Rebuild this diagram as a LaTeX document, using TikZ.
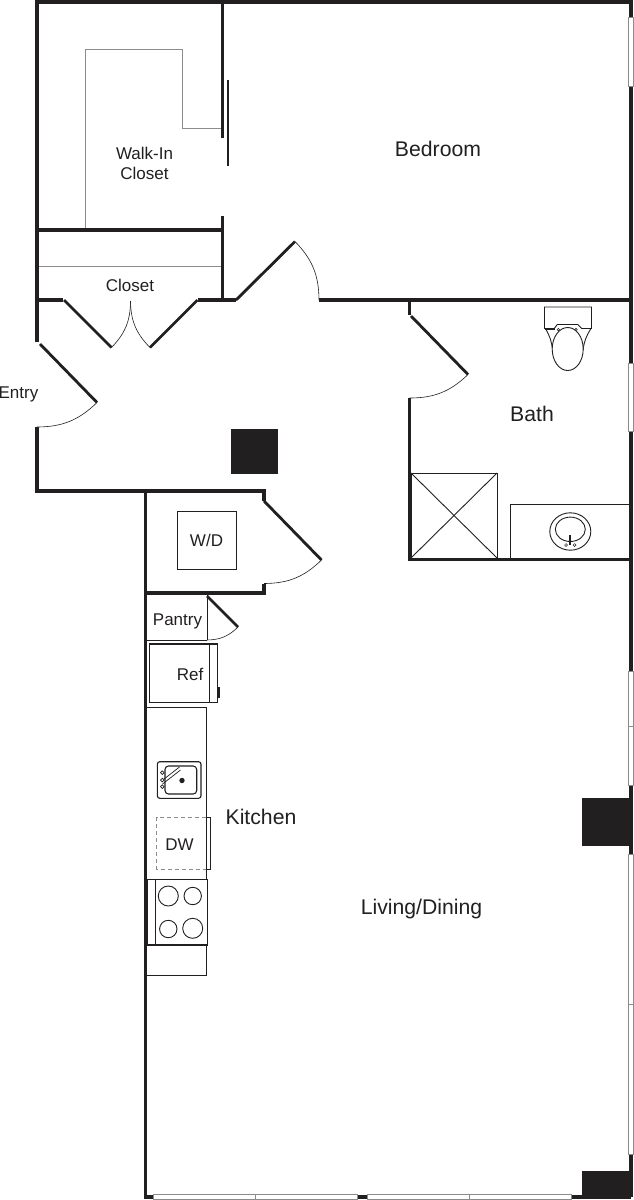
\documentclass[tikz,border=0pt]{standalone}
\usepackage{fontspec}
\setmainfont{Liberation Sans}
\usetikzlibrary{positioning,shapes.geometric}
\pgfdeclarelayer{edgelayer}
\pgfdeclarelayer{nodelayer}
\pgfsetlayers{edgelayer,main,nodelayer}
\definecolor{ink}{rgb}{0.13,0.12,0.12}
\definecolor{lgrey}{rgb}{0.55,0.55,0.55}
\tikzstyle{none}=[inner sep=0pt]
\tikzstyle{roomlabel}=[inner sep=0pt,text=ink,font=\fontsize{21.2}{21}\selectfont]
\tikzstyle{smalllabel}=[inner sep=0pt,text=ink,align=center,font=\fontsize{17}{20}\selectfont]
\tikzstyle{wall}=[draw=ink,line width=3.8]
\tikzstyle{doorleaf}=[draw=ink,line width=2.8]
\tikzstyle{swing}=[draw=ink,line width=0.6]
\tikzstyle{fixture}=[draw=ink,line width=0.9]
\tikzstyle{shelf}=[draw=lgrey,line width=1.0]
\tikzstyle{windowpane}=[draw=lgrey,fill=white,line width=0.9]
\tikzstyle{column}=[draw=ink,fill=ink,line width=0.8]

\begin{document}
\begin{tikzpicture}[x=1pt,y=-1pt]
	\useasboundingbox (0,0) rectangle (634,1200);
	\begin{pgfonlayer}{nodelayer}
		\node [style=roomlabel] (Bedroom) at (438,149) {Bedroom};
		\node [style=roomlabel] (Bath) at (532,413.5) {Bath};
		\node [style=roomlabel] (Kitchen) at (261,816.5) {Kitchen};
		\node [style=roomlabel] (Living) at (421.5,909) {Living/Dining};
		\node [style=smalllabel] (WalkIn) at (144.5,163.5) {Walk-In\\Closet};
		\node [style=smalllabel] (Closet) at (130,285) {Closet};
		\node [style=smalllabel] (Entry) at (18.5,394) {Entry};
		\node [style=smalllabel] (WD) at (206.5,540.5) {W/D};
		\node [style=smalllabel] (Pantry) at (177.5,621) {Pantry};
		\node [style=smalllabel] (Ref) at (190,674) {Ref};
		\node [style=smalllabel] (DW) at (179.5,845) {DW};
	\end{pgfonlayer}
	% door points
	\node [style=none] (EHinge) at (40,344) {};
	\node [style=none] (ETip) at (97,402.5) {};
	\node [style=none] (EJamb) at (37,427) {};
	\node [style=none] (CLHinge) at (64,300) {};
	\node [style=none] (CLTip) at (111.5,347.5) {};
	\node [style=none] (CRHinge) at (197.5,300) {};
	\node [style=none] (CRTip) at (150,347.5) {};
	\node [style=none] (CJamb) at (130.5,301) {};
	\node [style=none] (BHinge) at (236,300) {};
	\node [style=none] (BTip) at (295,241.5) {};
	\node [style=none] (BJamb) at (319,300) {};
	\node [style=none] (THinge) at (411,316) {};
	\node [style=none] (TTip) at (468,374.5) {};
	\node [style=none] (TJamb) at (409.5,398) {};
	\node [style=none] (LHinge) at (264,501) {};
	\node [style=none] (LTip) at (321.5,560) {};
	\node [style=none] (LJamb) at (264,583.5) {};
	\node [style=none] (PHinge) at (207,596) {};
	\node [style=none] (PTip) at (238,627) {};
	\node [style=none] (PJamb) at (207,640) {};
	\begin{pgfonlayer}{edgelayer}
		% walls
		\draw [style=wall] (37,342) to (37,2) to (631,2) to (631,1197);
		\draw [style=wall] (37,427) to (37,491) to (264,491) to (264,501);
		\draw [style=wall] (264,583.5) to (264,593) to (145.5,593);
		\draw [style=wall] (145.5,491) to (145.5,1197) to (631,1197);
		\draw [style=wall] (222.5,2) to (222.5,138);
		\draw [style=wall] (222.5,216) to (222.5,300);
		\draw [style=wall] (37,230) to (222.5,230);
		\draw [style=wall] (37,300) to (63,300);
		\draw [style=wall] (198,300) to (236,300);
		\draw [style=wall] (319,300) to (631,300);
		\draw [style=wall] (409.5,300) to (409.5,314.5);
		\draw [style=wall] (409.5,398) to (409.5,559.5) to (631,559.5);
		\draw [style=doorleaf] (228,80) to (228,165.5);
		% doors
		\draw [style=doorleaf] (EHinge.center) to (ETip.center);
		\draw [style=swing, bend left=22] (ETip.center) to (EJamb.center);
		\draw [style=doorleaf] (CLHinge.center) to (CLTip.center);
		\draw [style=swing, bend right=22] (CLTip.center) to (CJamb.center);
		\draw [style=doorleaf] (CRHinge.center) to (CRTip.center);
		\draw [style=swing, bend left=22] (CRTip.center) to (CJamb.center);
		\draw [style=doorleaf] (BHinge.center) to (BTip.center);
		\draw [style=swing, bend left=22] (BTip.center) to (BJamb.center);
		\draw [style=doorleaf] (THinge.center) to (TTip.center);
		\draw [style=swing, bend left=22] (TTip.center) to (TJamb.center);
		\draw [style=doorleaf] (LHinge.center) to (LTip.center);
		\draw [style=swing, bend left=22] (LTip.center) to (LJamb.center);
		\draw [style=doorleaf] (PHinge.center) to (PTip.center);
		\draw [style=swing, bend left=22] (PTip.center) to (PJamb.center);
	\end{pgfonlayer}
	% closet lines
	\draw [style=shelf] (85,228) to (85,49.5) to (182.5,49.5) to (182.5,128.5) to (220.5,128.5);
	\draw [style=shelf] (39,266.5) to (220.5,266.5);
	% columns
	\draw [style=column] (231.5,429) rectangle (277,473.5);
	\draw [style=column] (582,798) rectangle (630,845);
	\draw [style=column] (582,1171) rectangle (630,1197);
	% windows
	\draw [style=windowpane] (628.8,17.5) rectangle (633.5,86);
	\draw [style=windowpane] (628.8,363.5) rectangle (633.5,431.5);
	\draw [style=windowpane] (628.8,671) rectangle (633.5,785.5);
	\draw [style=shelf] (628.8,726) to (633.5,726);
	\draw [style=windowpane] (628.8,854) rectangle (633.5,1154);
	\draw [style=shelf] (628.8,1004) to (633.5,1004);
	\draw [style=windowpane] (153.5,1194.5) rectangle (357.5,1199.5);
	\draw [style=shelf] (255.5,1194.5) to (255.5,1199.5);
	\draw [style=windowpane] (367.5,1194.5) rectangle (571.5,1199.5);
	\draw [style=shelf] (469.5,1194.5) to (469.5,1199.5);
	% toilet
	\draw [style=fixture] (544.5,328.5) to (544.5,307) to (591.5,307) to (591.5,328.5) to (581.7,328.5) to (577.7,324.5) to (557.3,324.5) to (554.3,328.5) to cycle;
	\draw [style=fixture, line width=2] (545,329) to (554.5,329);
	\draw [style=fixture, bend left=12] (545.7,329) to (552.5,350);
	\draw [style=fixture, bend right=12] (590.7,329) to (583,350);
	\draw [style=fixture, fill=white] (567.7,349) ellipse [x radius=15.5, y radius=21.5];
	\draw [style=fixture, line width=0.5] (558.3,329.5) circle (1.2);
	\draw [style=fixture, line width=0.5] (576,329.5) circle (1.2);
	% shower
	\draw [style=fixture] (411,473) rectangle (497,558);
	\draw [style=fixture] (411,473) to (497,558);
	\draw [style=fixture] (411,558) to (497,473);
	% vanity
	\draw [style=fixture] (510,558) to (510,504) to (629.5,504);
	\draw [style=fixture] (570.3,531.5) ellipse [x radius=20.5, y radius=18.7];
	\draw [style=fixture] (570.3,529.3) ellipse [x radius=15, y radius=12.2];
	\draw [style=fixture, line width=1.8] (570.3,535) to (570.3,545);
	\draw [style=fixture, line width=0.5] (566,545) circle (1.4);
	\draw [style=fixture, line width=0.5] (574.5,545) circle (1.4);
	% washer, pantry
	\draw [style=fixture] (177,511) rectangle (236,569.5);
	\draw [style=fixture] (147,640) to (207,640);
	\draw [style=fixture] (207,595) to (207,640);
	% ref
	\draw [style=fixture, line width=1.2] (149.5,644) rectangle (217.7,702.7);
	\draw [style=fixture] (209.3,644) to (209.3,702.7);
	\fill [ink] (217.7,687) rectangle (220.2,698);
	% counter
	\draw [style=fixture] (147,707) to (206.7,707) to (206.7,879);
	\draw [style=fixture] (206.7,945) to (206.7,975.7) to (147,975.7);
	% sink
	\draw [style=fixture, line width=1.1, rounded corners=2.5] (157.3,761.7) rectangle (201,798.3);
	\draw [style=fixture, line width=1.1, rounded corners=3.5] (165,766) rectangle (196.7,794);
	\fill [ink] (182,780.5) circle (2.7);
	\draw [style=fixture, line width=0.7] (161.5,781) to (179.5,767);
	\draw [style=fixture, line width=0.7] (162.5,784) to (180.5,770);
	\draw [style=fixture, line width=0.7, fill=white] (162.3,772.7) circle (1.8);
	\draw [style=fixture, line width=0.7, fill=white] (162.3,780) circle (1.8);
	\draw [style=fixture, line width=0.7, fill=white] (162.3,786.7) circle (1.8);
	% dishwasher
	\draw [style=fixture, draw=lgrey, dashed, dash pattern=on 4pt off 3pt] (206,817.5) to (156.7,817.5) to (156.7,869.3) to (206,869.3);
	\draw [style=fixture] (206,817.5) rectangle (210,869.3);
	% range
	\draw [style=fixture, line width=1.1] (147,879.5) rectangle (207.5,945);
	\draw [style=fixture, line width=1.1] (155.7,879.5) to (155.7,945);
	\draw [style=fixture] (168.3,896) circle (10);
	\draw [style=fixture] (192.7,896) circle (8.7);
	\draw [style=fixture] (168.3,929) circle (8.7);
	\draw [style=fixture] (192.7,928.3) circle (10);
\end{tikzpicture}
\end{document}
